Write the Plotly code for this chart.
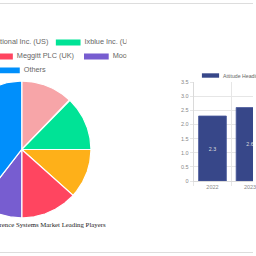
import numpy as np
import plotly.graph_objects as go

# ---------------- data ----------------
companies = ["Honeywell International Inc. (US)", "Ixblue Inc. (US)", "Safran S.A. (France)",
             "Meggitt PLC (UK)", "Moog Inc. (US)", "Others"]
shares = [12.1, 12.9, 11.7, 13.3, 10.4, 39.6]
slice_colors = ["#F7A5A8", "#00E396", "#FEB019", "#FF4560", "#775DD0", "#008FFB"]
pie_title = "Attitude Heading Reference Systems Market Leading Players"

years = ["2022", "2023"]
market_size = [2.3, 2.6]
bar_series_name = "Attitude Heading Reference Systems Market"
y_tick_vals = [0, 0.5, 1.0, 1.5, 2.0, 2.5, 3.0, 3.5]
y_tick_text = ["0", "0.5", "1.0", "1.5", "2.0", "2.5", "3.0", "3.5"]

# ---------------- layout geometry (pixels) ----------------
W = H = 256
CX, CY, R = 22, 150, 70          # pie centre / radius in page pixels
# legend slot per company: (row centre y, box left x)
legend_slots = [(40.5, -88), (40.5, 56.5), (54.8, -112), (54.8, -12), (54.8, 85), (69.0, -5)]
BOX_W, BOX_H, BOX_GAP = 25, 6, 4

fig = go.Figure()

# pie slices drawn on a pixel-scaled hidden axis pair (x2/y2)
total = sum(shares)
start = 0.0
for name, val, col in zip(companies, shares, slice_colors):
    a0 = start / total * 2 * np.pi
    a1 = (start + val) / total * 2 * np.pi
    t = np.linspace(a0, a1, 80)
    xs = np.concatenate([[0], R * np.sin(t), [0]])
    ys = np.concatenate([[0], R * np.cos(t), [0]])
    fig.add_trace(go.Scatter(x=xs, y=ys, mode="lines", fill="toself", fillcolor=col,
                             line=dict(color="white", width=1.2), name=name,
                             hoverinfo="text", text=f"{name}: {val}%",
                             xaxis="x2", yaxis="y2", showlegend=False))
    start += val

# pie legend boxes + labels
shapes = []
lx, ly = [], []
for (row_y, bx), col in zip(legend_slots, slice_colors):
    shapes.append(dict(type="rect", xref="x2", yref="y2",
                       x0=bx - CX, x1=bx + BOX_W - CX,
                       y0=CY - (row_y + BOX_H / 2), y1=CY - (row_y - BOX_H / 2),
                       fillcolor=col, line=dict(width=0)))
    lx.append(bx + BOX_W + BOX_GAP - CX)
    ly.append(CY - row_y)
fig.add_trace(go.Scatter(x=lx, y=ly, mode="text", text=companies, textposition="middle right",
                         textfont=dict(family="Liberation Sans, Arial", size=7.3, color="#666666"),
                         xaxis="x2", yaxis="y2", showlegend=False, hoverinfo="skip",
                         cliponaxis=True))

# bar chart
fig.add_trace(go.Bar(x=years, y=market_size, name=bar_series_name, width=0.74,
                     marker=dict(color="#374789", line=dict(color="#4a5a9c", width=0.8)),
                     texttemplate="%{y}", textposition="inside", insidetextanchor="middle",
                     textangle=0,
                     textfont=dict(family="Liberation Sans, Arial", size=5.3, color="#dcdcdc"),
                     xaxis="x", yaxis="y", showlegend=False))

# bar legend
shapes.append(dict(type="rect", xref="paper", yref="paper",
                   x0=204.3 / W, x1=221.7 / W, y0=1 - 76.5 / H, y1=1 - 72 / H,
                   fillcolor="#374789", line=dict(width=0)))
# page border lines
shapes.append(dict(type="line", xref="paper", yref="paper", x0=0, x1=1,
                   y0=1 - 0.5 / H, y1=1 - 0.5 / H, line=dict(color="#dddddd", width=1)))
shapes.append(dict(type="line", xref="paper", yref="paper", x0=0, x1=1,
                   y0=1 - 255.5 / H, y1=1 - 255.5 / H, line=dict(color="#dddddd", width=1)))

annotations = [
    dict(xref="paper", yref="paper", x=224 / W, y=1 - 74.3 / H, xanchor="left", yanchor="middle",
         text=bar_series_name, showarrow=False,
         font=dict(family="Liberation Sans, Arial", size=5.2, color="#666666")),
    dict(xref="x2", yref="y2", x=0, y=CY - 227, xanchor="center", yanchor="middle",
         text=pie_title, showarrow=False,
         font=dict(family="Liberation Serif, Times New Roman", size=6.8, color="#222222")),
]

grid = "#e6e6e6"
fig.update_layout(
    width=W, height=H, margin=dict(l=0, r=0, t=0, b=0),
    paper_bgcolor="white", plot_bgcolor="white", showlegend=False,
    shapes=shapes, annotations=annotations,
    xaxis=dict(domain=[196 / W, 1], type="category", range=[-0.5, -0.5 + 60 / 38],
               tickson="boundaries", showgrid=True, gridcolor=grid, gridwidth=1,
               ticks="outside", ticklen=4, tickcolor=grid, showline=True, linecolor="#dadada",
               tickfont=dict(family="Liberation Sans, Arial", size=5.5, color="#888888"),
               anchor="y", fixedrange=True),
    yaxis=dict(domain=[1 - 182.3 / H, 1 - 81 / H], range=[0, 3.5],
               tickvals=y_tick_vals, ticktext=y_tick_text, showgrid=True, gridcolor=grid,
               ticks="outside", ticklen=3, tickcolor=grid, showline=True, linecolor="#dadada",
               zeroline=False,
               tickfont=dict(family="Liberation Sans, Arial", size=5.5, color="#888888"),
               anchor="x", fixedrange=True),
    xaxis2=dict(domain=[0, 0.5], range=[-CX, 128 - CX], visible=False, fixedrange=True,
                anchor="y2"),
    yaxis2=dict(domain=[0, 1], range=[CY - H, CY], visible=False, fixedrange=True,
                anchor="x2"),
)

fig.write_html("out.html")
